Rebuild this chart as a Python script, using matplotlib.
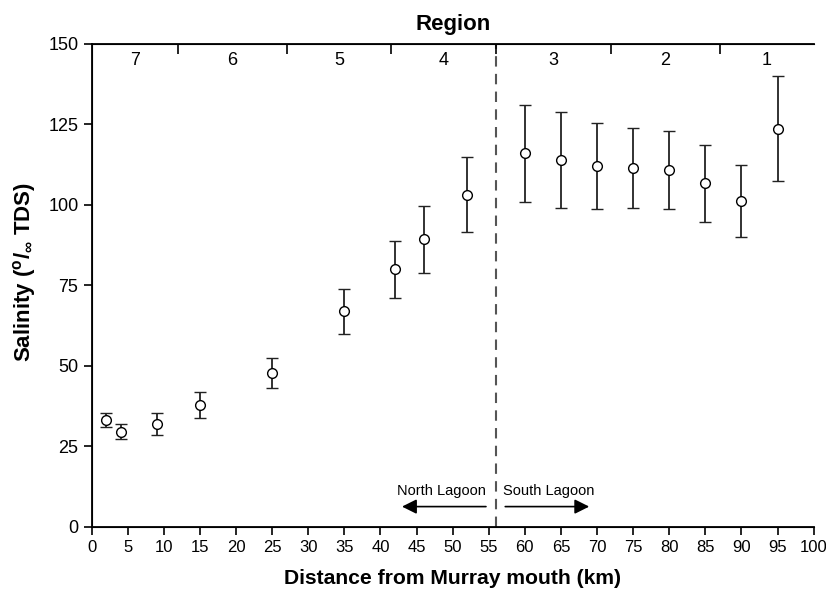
import numpy as np
import matplotlib.pyplot as plt

plt.rcParams['font.family'] = ['Liberation Sans', 'DejaVu Sans']

# distance from Murray mouth (km) and salinity with error bar ends
dist = [2, 4, 9, 15, 25, 35, 42, 46, 52, 60, 65, 70, 75, 80, 85, 90, 95]
sal = [33.2, 29.6, 32.0, 37.9, 47.8, 66.9, 80.1, 89.3, 103.1,
       116.0, 114.0, 112.2, 111.5, 110.9, 106.7, 101.1, 123.5]
sal_hi = [35.5, 31.9, 35.5, 41.9, 52.6, 73.8, 88.9, 99.8, 114.8,
          131.0, 129.0, 125.6, 124.0, 122.9, 118.5, 112.4, 139.9]
sal_lo = [31.0, 27.3, 28.4, 33.9, 43.2, 60.0, 71.2, 79.0, 91.7,
          101.0, 99.0, 98.8, 99.0, 98.8, 94.7, 90.0, 107.4]

region_edges = [0, 12, 27, 41.5, 56, 72, 87, 100]
region_names = ['7', '6', '5', '4', '3', '2', '1']
lagoon_split = 56

sal = np.array(sal)
yerr = [sal - np.array(sal_lo), np.array(sal_hi) - sal]

fig, ax = plt.subplots(figsize=(8.26, 5.94), dpi=100)
fig.subplots_adjust(left=0.111, right=0.985, bottom=0.113, top=0.926)

ax.errorbar(dist, sal, yerr=yerr, fmt='o', color='black', mfc='white',
            mec='black', ms=7, mew=1.0, ecolor='#222222', elinewidth=1.3,
            capsize=4, capthick=1.2, zorder=3)

ax.axvline(lagoon_split, color='#555555', lw=1.5, ls=(0, (5, 3.5)), zorder=2)

ax.set_xlim(0, 100)
ax.set_ylim(0, 150)
ax.set_xticks(np.arange(0, 101, 5))
ax.set_yticks([0, 25, 50, 75, 100, 125, 150])
ax.tick_params(direction='out', length=6, width=1.2)
ax.tick_params(axis='y', labelsize=13)
ax.tick_params(axis='x', labelsize=12)
ax.spines['right'].set_visible(False)
for s in ['left', 'bottom', 'top']:
    ax.spines[s].set_linewidth(1.3)

ax.set_xlabel('Distance from Murray mouth (km)', fontsize=15.2,
              fontweight='bold', labelpad=10)
ax.set_ylabel(r'Salinity ($^{\mathregular{o}}$/$_{\mathregular{\infty}}$ TDS)',
              fontsize=16, fontweight='bold')
ax.yaxis.set_label_coords(-0.074, 0.527)

# region boundaries on top axis
top = ax.twiny()
top.set_xlim(0, 100)
top.set_xticks(region_edges[1:-1])
top.tick_params(direction='in', length=7, width=1.2, labeltop=False)
top.spines['right'].set_visible(False)
top.set_title('Region', fontsize=16, fontweight='bold', pad=10)
for i, name in enumerate(region_names):
    mid = (region_edges[i] + region_edges[i + 1]) / 2
    ax.text(mid, 0.965, name, transform=ax.get_xaxis_transform(),
            ha='center', va='center', fontsize=13)

# lagoon arrows
ax.annotate('', xy=(42.6, 6.3), xytext=(55.0, 6.3),
            arrowprops=dict(arrowstyle='-|>', color='black', lw=1.2,
                            mutation_scale=22))
ax.annotate('', xy=(69.3, 6.3), xytext=(56.9, 6.3),
            arrowprops=dict(arrowstyle='-|>', color='black', lw=1.2,
                            mutation_scale=22))
ax.text(48.5, 11.2, 'North Lagoon', ha='center', va='center', fontsize=10.5)
ax.text(63.3, 11.2, 'South Lagoon', ha='center', va='center', fontsize=10.5)

fig.savefig('out.png', dpi=100)
